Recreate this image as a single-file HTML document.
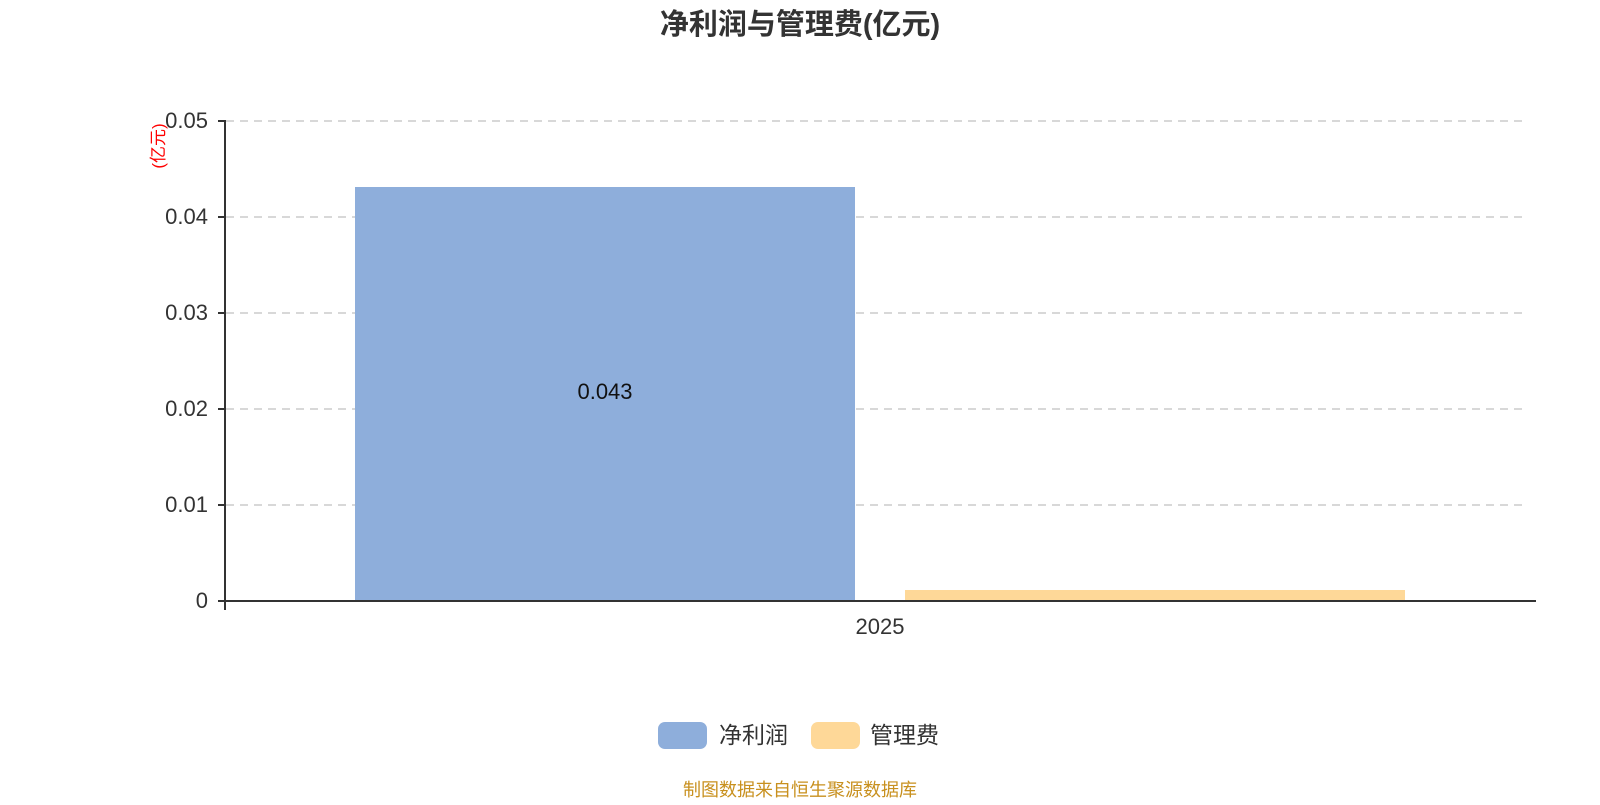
<!DOCTYPE html>
<html><head><meta charset="utf-8"><style>
body{margin:0;background:#fff;}
svg text{font-family:"Liberation Sans","Noto Sans CJK SC",sans-serif;}
</style></head><body>
<svg width="1600" height="800" xmlns="http://www.w3.org/2000/svg">
<text x="800" y="34" text-anchor="middle" font-size="29" font-weight="bold" fill="#333">净利润与管理费(亿元)</text>
<g stroke="#ccc" stroke-width="1.5" stroke-dasharray="8,6">
<line x1="226" y1="121" x2="1528" y2="121"/>
<line x1="226" y1="217" x2="1528" y2="217"/>
<line x1="226" y1="313" x2="1528" y2="313"/>
<line x1="226" y1="409" x2="1528" y2="409"/>
<line x1="226" y1="505" x2="1528" y2="505"/>
</g>
<rect x="355" y="187" width="500" height="414" fill="#8eaedb"/>
<rect x="905" y="590" width="500" height="11" fill="#fed898"/>
<line x1="225" y1="120" x2="225" y2="610" stroke="#333" stroke-width="2"/>
<line x1="224" y1="601" x2="1536" y2="601" stroke="#333" stroke-width="2"/>
<g stroke="#333" stroke-width="2">
<line x1="218" y1="121" x2="225" y2="121"/><line x1="218" y1="217" x2="225" y2="217"/>
<line x1="218" y1="313" x2="225" y2="313"/><line x1="218" y1="409" x2="225" y2="409"/>
<line x1="218" y1="505" x2="225" y2="505"/><line x1="218" y1="601" x2="225" y2="601"/>
</g>
<g font-size="22" fill="#333" text-anchor="end">
<text x="208" y="128">0.05</text><text x="208" y="224">0.04</text><text x="208" y="320">0.03</text>
<text x="208" y="416">0.02</text><text x="208" y="512">0.01</text><text x="208" y="608">0</text>
</g>
<text transform="translate(164,146) rotate(-90)" text-anchor="middle" font-size="17" fill="red">(亿元)</text>
<text x="605" y="399" text-anchor="middle" font-size="22" fill="#111">0.043</text>
<text x="880" y="634" text-anchor="middle" font-size="22" fill="#333">2025</text>
<rect x="658" y="722" width="49" height="27" rx="7" fill="#8eaedb"/>
<text x="719" y="743" font-size="23" fill="#333">净利润</text>
<rect x="811" y="722" width="49" height="27" rx="7" fill="#fed898"/>
<text x="870" y="743" font-size="23" fill="#333">管理费</text>
<text x="800" y="796" text-anchor="middle" font-size="18" fill="#c8901e">制图数据来自恒生聚源数据库</text>
</svg>
</body></html>
